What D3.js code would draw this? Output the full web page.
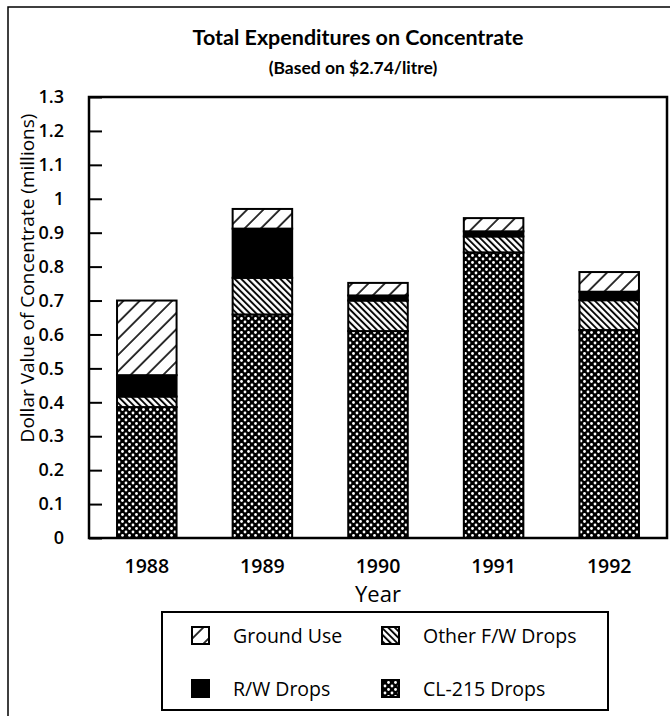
<!DOCTYPE html>
<html><head><meta charset="utf-8">
<script src="https://cdn.jsdelivr.net/npm/d3@7"></script>
<style>body{margin:0;background:#fff}svg{display:block}</style>
</head><body>
<script>
const years = ["1988","1989","1990","1991","1992"];
const cl215Drops = [0.386,0.659,0.610,0.842,0.613];
const otherFWDrops = [0.031,0.108,0.090,0.047,0.088];
const rwDrops = [0.063,0.145,0.015,0.015,0.025];
const groundUse = [0.220,0.058,0.037,0.039,0.058];
const yTicks = [0,0.1,0.2,0.3,0.4,0.5,0.6,0.7,0.8,0.9,1,1.1,1.2,1.3];
const seriesNames = ["CL-215 Drops","Other F/W Drops","R/W Drops","Ground Use"];

const W=670,H=716;
const svg=d3.select("body").append("svg").attr("width",W).attr("height",H);
const defs=svg.append("defs");
// patterns
const pG=defs.append("pattern").attr("id","pGround").attr("patternUnits","userSpaceOnUse")
  .attr("width",11.5).attr("height",11.5).attr("patternTransform","rotate(45)");
pG.append("rect").attr("width",11.5).attr("height",11.5).attr("fill","#fff");
pG.append("line").attr("x1",1).attr("x2",1).attr("y1",0).attr("y2",11.5).attr("stroke","#000").attr("stroke-width",1.6);
const pO=defs.append("pattern").attr("id","pOther").attr("patternUnits","userSpaceOnUse")
  .attr("width",4.6).attr("height",4.6).attr("patternTransform","rotate(-45)");
pO.append("rect").attr("width",4.6).attr("height",4.6).attr("fill","#fff");
pO.append("line").attr("x1",1).attr("x2",1).attr("y1",0).attr("y2",4.6).attr("stroke","#000").attr("stroke-width",1.9);
const pC=defs.append("pattern").attr("id","pCL").attr("patternUnits","userSpaceOnUse")
  .attr("width",7).attr("height",7);
pC.append("rect").attr("width",7).attr("height",7).attr("fill","#000");
[[0,0],[7,0],[0,7],[7,7],[3.5,3.5]].forEach(([cx,cy])=>pC.append("circle").attr("cx",cx).attr("cy",cy).attr("r",1.4).attr("fill","#fff"));
const fills={"CL-215 Drops":"url(#pCL)","Other F/W Drops":"url(#pOther)","R/W Drops":"#000","Ground Use":"url(#pGround)"};

// outer frame
svg.append("rect").attr("x",8).attr("y",7).attr("width",760).attr("height",800).attr("fill","none").attr("stroke","#000").attr("stroke-width",1.5);

const font="'Open Sans', sans-serif";
svg.append("text").attr("x",358).attr("y",45).attr("text-anchor","middle").attr("font-family","Lato, sans-serif")
  .attr("font-weight",700).attr("font-size",21.5).text("Total Expenditures on Concentrate");
svg.append("text").attr("x",353).attr("y",74).attr("text-anchor","middle").attr("font-family","Lato, sans-serif")
  .attr("font-weight",700).attr("font-size",17.5).text("(Based on $2.74/litre)");

const x0=89,x1=667,yTop=97,yBot=538;
const x=d3.scaleBand().domain(years).range([x0,x1]).paddingInner(0.485).paddingOuter(0.2425);
const y=d3.scaleLinear().domain([0,1.3]).range([yBot,yTop]);

const rows=years.map((yr,i)=>({year:yr,"CL-215 Drops":cl215Drops[i],"Other F/W Drops":otherFWDrops[i],"R/W Drops":rwDrops[i],"Ground Use":groundUse[i]}));
const stacked=d3.stack().keys(seriesNames)(rows);

const g=svg.append("g");
stacked.forEach(s=>{
  g.selectAll(null).data(s).enter().append("rect")
   .attr("x",d=>x(d.data.year)).attr("width",x.bandwidth())
   .attr("y",d=>y(d[1])).attr("height",d=>y(d[0])-y(d[1]))
   .attr("fill",fills[s.key]).attr("stroke","#000").attr("stroke-width",2);
});

// plot frame
svg.append("rect").attr("x",x0).attr("y",yTop).attr("width",x1-x0).attr("height",yBot-yTop)
  .attr("fill","none").attr("stroke","#000").attr("stroke-width",2.5);

// y axis
const yAxis=d3.axisLeft(y).tickValues(yTicks).tickSize(-13).tickPadding(25).tickFormat(d=>d3.format("~g")(d));
const ya=svg.append("g").attr("transform",`translate(${x0},0)`).call(yAxis);
ya.select(".domain").remove();
ya.selectAll(".tick line").attr("stroke","#000").attr("stroke-width",2);
ya.selectAll(".tick text").attr("font-family",font).attr("font-size",18).attr("fill","#000").attr("font-weight",600);

// x axis labels
const xAxis=d3.axisBottom(x).tickSize(0).tickPadding(21);
const xa=svg.append("g").attr("transform",`translate(0,${yBot})`).call(xAxis);
xa.select(".domain").remove();
xa.selectAll(".tick text").attr("font-family",font).attr("font-size",19.5).attr("fill","#000").attr("font-weight",600);

svg.append("text").attr("x",378).attr("y",602).attr("text-anchor","middle").attr("font-family",font)
  .attr("font-size",22).attr("font-weight",500).text("Year");
svg.append("text").attr("transform","translate(27,278) rotate(-90)").attr("text-anchor","middle")
  .attr("dy","0.35em").attr("font-family",font)
  .attr("font-size",19).text("Dollar Value of Concentrate (millions)");

// legend
svg.append("rect").attr("x",162).attr("y",612).attr("width",446).attr("height",98).attr("fill","none").attr("stroke","#000").attr("stroke-width",2);
const legendItems=[
  {name:"Ground Use",label:"Ground Use",cx:192,cy:636},
  {name:"Other F/W Drops",label:"Other F/W Drops",cx:382,cy:636},
  {name:"R/W Drops",label:"R/W Drops",cx:192,cy:689},
  {name:"CL-215 Drops",label:"CL-215 Drops",cx:382,cy:689}
];
const lg=svg.append("g");
legendItems.forEach(it=>{
  lg.append("rect").attr("x",it.cx).attr("y",it.cy-9).attr("width",17).attr("height",17)
    .attr("fill",fills[it.name]).attr("stroke","#000").attr("stroke-width",2);
  lg.append("text").attr("x",it.cx+41).attr("y",it.cy).attr("dy","0.35em").attr("font-family",font)
    .attr("font-size",19.5).text(it.label);
});
</script>
</body></html>
